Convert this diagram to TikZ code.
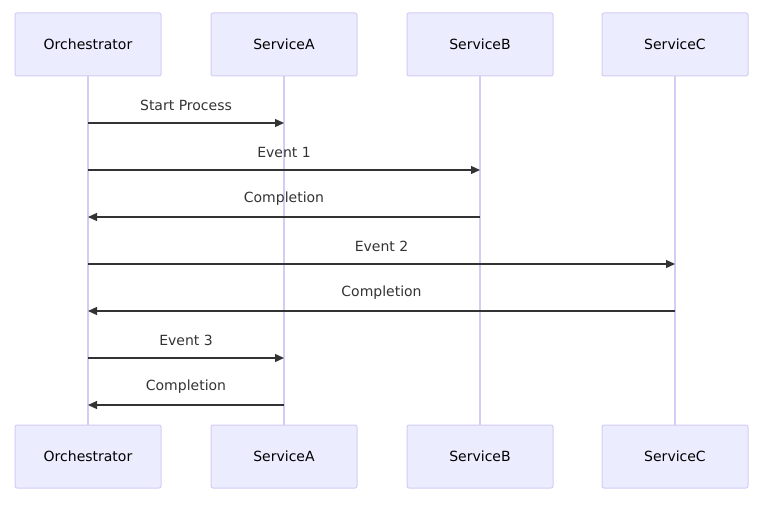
\documentclass[tikz,border=0pt]{standalone}
\usepackage{fontspec}
\setmainfont{DejaVu Sans}
\usetikzlibrary{arrows.meta}
\definecolor{actfill}{HTML}{ECECFF}
\definecolor{actdraw}{HTML}{D4CCF4}
\definecolor{msg}{HTML}{333333}
\tikzset{
  actor/.style={draw=actdraw, fill=actfill, line width=1pt, rounded corners=2pt, minimum width=146pt, minimum height=63pt, inner sep=0pt, font=\fontsize{14}{16}\selectfont},
  life/.style={draw=actdraw, line width=1.5pt},
  msgline/.style={draw=msg, line width=1.3pt, -{Triangle[length=9pt,width=8pt]}},
  lbl/.style={font=\fontsize{14}{16}\selectfont, text=msg, inner sep=0pt}
}
\begin{document}
\begin{tikzpicture}[x=1pt,y=-1pt]
\useasboundingbox (0,0) rectangle (769,511);
\foreach \n/\t/\x in {o/Orchestrator/88, a/ServiceA/284, b/ServiceB/480, c/ServiceC/675}{
  \draw[life] (\x,76) -- (\x,425);
  \node[actor] (\n top) at (\x,44.5) {\t};
  \node[actor] (\n bot) at (\x,456.5) {\t};
}
\foreach \n/\x in {o/88, a/284, b/480, c/675}{
  \foreach \y in {123,170,217,264,311,358,405}{
    \coordinate (\n\y) at (\x,\y);
  }
}
\draw[msgline] (o123) -- (a123) node[lbl, midway, yshift=18pt] {Start Process};
\draw[msgline] (o170) -- (b170) node[lbl, midway, yshift=18pt] {Event 1};
\draw[msgline] (b217) -- (o217) node[lbl, midway, yshift=18pt] {Completion};
\draw[msgline] (o264) -- (c264) node[lbl, midway, yshift=18pt] {Event 2};
\draw[msgline] (c311) -- (o311) node[lbl, midway, yshift=18pt] {Completion};
\draw[msgline] (o358) -- (a358) node[lbl, midway, yshift=18pt] {Event 3};
\draw[msgline] (a405) -- (o405) node[lbl, midway, yshift=18pt] {Completion};
\end{tikzpicture}
\end{document}
